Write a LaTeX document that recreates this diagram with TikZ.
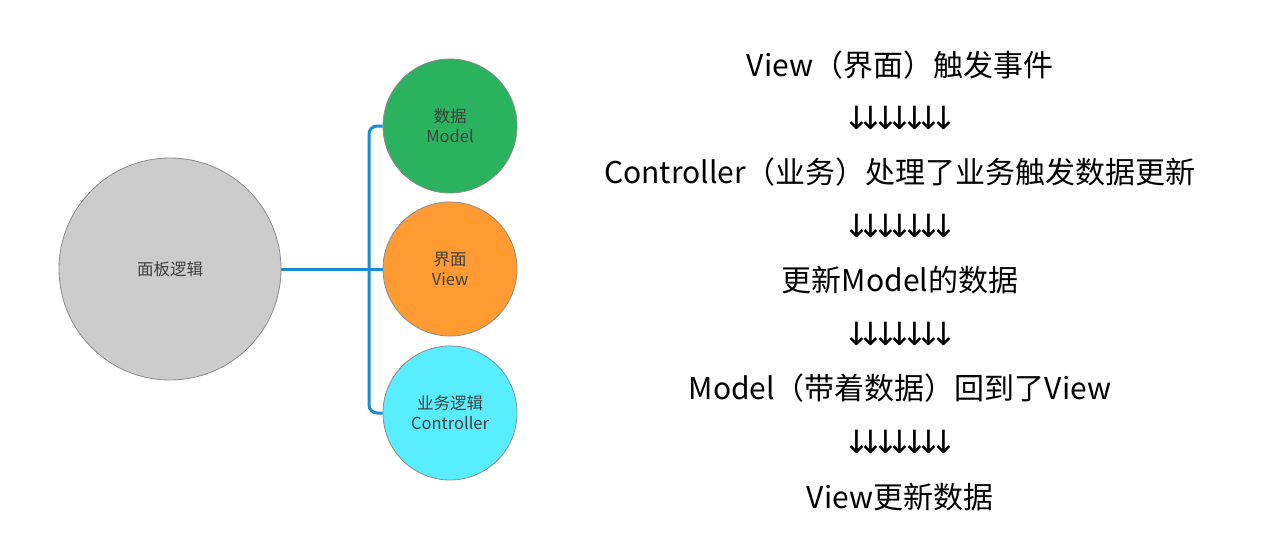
\documentclass[tikz,border=0pt]{standalone}
\usepackage{fontspec}
\setmainfont{Noto Sans CJK SC}
\newfontfamily\arrowfont{DejaVu Sans}
\usetikzlibrary{positioning}

\definecolor{panelgray}{RGB}{204,204,204}
\definecolor{modelgreen}{RGB}{42,178,94}
\definecolor{vieworange}{RGB}{255,155,50}
\definecolor{ctrlcyan}{RGB}{88,238,255}
\definecolor{linkblue}{RGB}{22,140,210}

\tikzstyle{every picture}+=[x=1pt,y=-1pt]
\tikzstyle{ball}=[circle,draw=black!45,line width=0.8pt,inner sep=0pt,minimum size=134pt,align=center,text=black!75,font=\fontsize{16.5}{20}\selectfont]
\tikzstyle{stepline}=[font=\fontsize{30}{36}\selectfont]
\tikzstyle{arrowline}=[font=\fontsize{32}{36}\selectfont]
\tikzstyle{link}=[draw=linkblue,line width=3pt,rounded corners=8pt]

\newcommand\dnarrow{\makebox[14.5pt]{\arrowfont ↓}}
\newcommand\dnrow{\dnarrow\dnarrow\dnarrow\dnarrow\dnarrow\dnarrow\dnarrow}

\begin{document}
\begin{tikzpicture}
\useasboundingbox (0,0) rectangle (1267,557);

\node[ball,fill=panelgray,minimum size=222pt] (panel) at (170,269) {面板逻辑};
\node[ball,fill=modelgreen] (model) at (450,126) {数据\\Model};
\node[ball,fill=vieworange] (view) at (450,269) {界面\\View};
\node[ball,fill=ctrlcyan] (ctrl) at (450,413) {业务逻辑\\Controller};

\coordinate (br) at (369,269);
\draw[link] (panel) -- (view);
\draw[link] (model.west) -| (br) |- (ctrl.west);

\node[stepline] (s1) at (900,65) {View（界面）触发事件};
\node[arrowline] (a1) at (900,118) {\dnrow};
\node[stepline] (s2) at (900,172) {Controller（业务）处理了业务触发数据更新};
\node[arrowline] (a2) at (900,226) {\dnrow};
\node[stepline] (s3) at (900,280) {更新Model的数据};
\node[arrowline] (a3) at (900,334) {\dnrow};
\node[stepline] (s4) at (900,388) {Model（带着数据）回到了View};
\node[arrowline] (a4) at (900,442) {\dnrow};
\node[stepline] (s5) at (900,497) {View更新数据};

\end{tikzpicture}
\end{document}
